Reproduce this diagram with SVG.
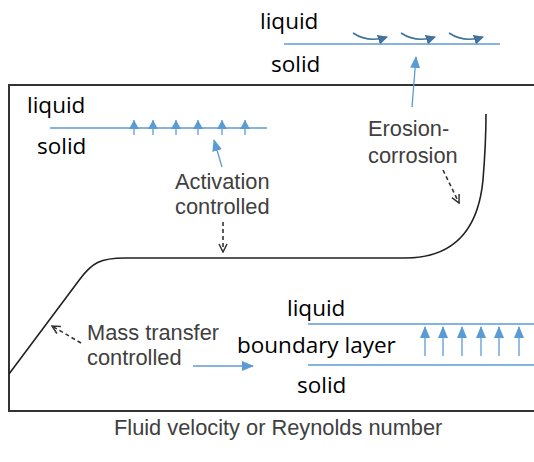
<svg xmlns="http://www.w3.org/2000/svg" width="534" height="462" viewBox="0 0 534 462">
<style>
.lab{font-family:"Open Sans","Noto Sans","DejaVu Sans",sans-serif;font-size:22.5px;fill:#000}
.ann{font-family:"Liberation Sans",Arial,sans-serif;font-size:21.8px;fill:#404040}
.iface{stroke:#5b9bd5;stroke-width:1.3;fill:none}
.blue{stroke:#5b9bd5;stroke-width:1.3;fill:none;marker-end:url(#bh)}
.small{stroke:#5b9bd5;stroke-width:1.3;fill:none;marker-end:url(#sh)}
.dash{stroke:#333;stroke-width:1.6;fill:none;stroke-dasharray:4 3;marker-end:url(#dh)}
.curl{stroke:#41719c;stroke-width:1.6;fill:none;marker-end:url(#ch)}
</style>
<defs>
<marker id="bh" markerWidth="12" markerHeight="10" refX="11" refY="5" orient="auto" markerUnits="userSpaceOnUse"><path d="M0,0 L12,5 L0,10 Z" fill="#5b9bd5"/></marker>
<marker id="sh" markerWidth="9" markerHeight="10" refX="9" refY="5" orient="auto" markerUnits="userSpaceOnUse"><path d="M0,0 L9,5 L0,10 Z" fill="#5b9bd5"/></marker>
<marker id="ch" markerWidth="10" markerHeight="10" refX="9" refY="5" orient="auto" markerUnits="userSpaceOnUse"><path d="M0,0 L10,5 L0,10 Z" fill="#41719c"/></marker>
<marker id="dh" markerWidth="10" markerHeight="10" refX="9" refY="5" orient="auto" markerUnits="userSpaceOnUse"><path d="M1,1 L9,5 L1,9" fill="none" stroke="#333" stroke-width="1.5"/></marker>
</defs>
<rect width="534" height="462" fill="#fff"/>

<g id="frame">
<path d="M540,85 L9,85 L9,411 L540,411" fill="none" stroke="#333" stroke-width="2"/>
<text class="ann" x="114" y="435">Fluid velocity or Reynolds number</text>
</g>

<g id="curve">
<path d="M9,374 L80,279 C92,263 100,258 125,258 L405,258 C452,258 478,232 483,180 C485,155 486,135 486,114" fill="none" stroke="#222" stroke-width="1.6"/>
</g>

<g id="erosion-inset">
<text class="lab" x="260" y="29">liquid</text>
<text class="lab" x="271" y="72">solid</text>
<line class="iface" x1="284" y1="44" x2="500" y2="44"/>
<path class="curl" d="M353,33 Q368,43 387,37"/>
<path class="curl" d="M401,33 Q416,43 435,37"/>
<path class="curl" d="M449,33 Q464,43 483,37"/>
</g>

<g id="activation-inset">
<text class="lab" x="27" y="113">liquid</text>
<text class="lab" x="37" y="154">solid</text>
<line class="iface" x1="50" y1="128" x2="267" y2="128"/>
<line class="small" x1="134" y1="135" x2="134" y2="120"/>
<line class="small" x1="153" y1="135" x2="153" y2="120"/>
<line class="small" x1="176" y1="135" x2="176" y2="120"/>
<line class="small" x1="198" y1="135" x2="198" y2="120"/>
<line class="small" x1="222" y1="135" x2="222" y2="120"/>
<line class="small" x1="245" y1="135" x2="245" y2="120"/>
</g>

<g id="boundary-inset">
<text class="lab" x="287" y="316">liquid</text>
<text class="lab" x="237" y="353">boundary layer</text>
<text class="lab" x="297" y="393">solid</text>
<line class="iface" x1="308" y1="324" x2="534" y2="324"/>
<line class="iface" x1="308" y1="365" x2="534" y2="365"/>
<line class="blue" x1="425" y1="356" x2="425" y2="327"/>
<line class="blue" x1="443" y1="356" x2="443" y2="327"/>
<line class="blue" x1="462" y1="356" x2="462" y2="327"/>
<line class="blue" x1="481" y1="356" x2="481" y2="327"/>
<line class="blue" x1="499" y1="356" x2="499" y2="327"/>
<line class="blue" x1="519" y1="356" x2="519" y2="327"/>
</g>

<g id="label-activation">
<text class="ann" x="175" y="189">Activation</text>
<text class="ann" x="175" y="214">controlled</text>
</g>
<g id="label-erosion">
<text class="ann" x="368" y="136">Erosion-</text>
<text class="ann" x="368" y="163">corrosion</text>
</g>
<g id="label-mass">
<text class="ann" x="87" y="340">Mass transfer</text>
<text class="ann" x="87" y="365">controlled</text>
</g>

<g id="connectors">
<line class="blue" x1="412" y1="107" x2="416" y2="57"/>
<line class="blue" x1="222" y1="167" x2="214" y2="140"/>
<line class="blue" x1="193" y1="366" x2="253" y2="366"/>
<line class="dash" x1="223" y1="222" x2="223" y2="252"/>
<line class="dash" x1="443" y1="170" x2="459" y2="203"/>
<line class="dash" x1="81" y1="343" x2="52" y2="326"/>
</g>
</svg>
